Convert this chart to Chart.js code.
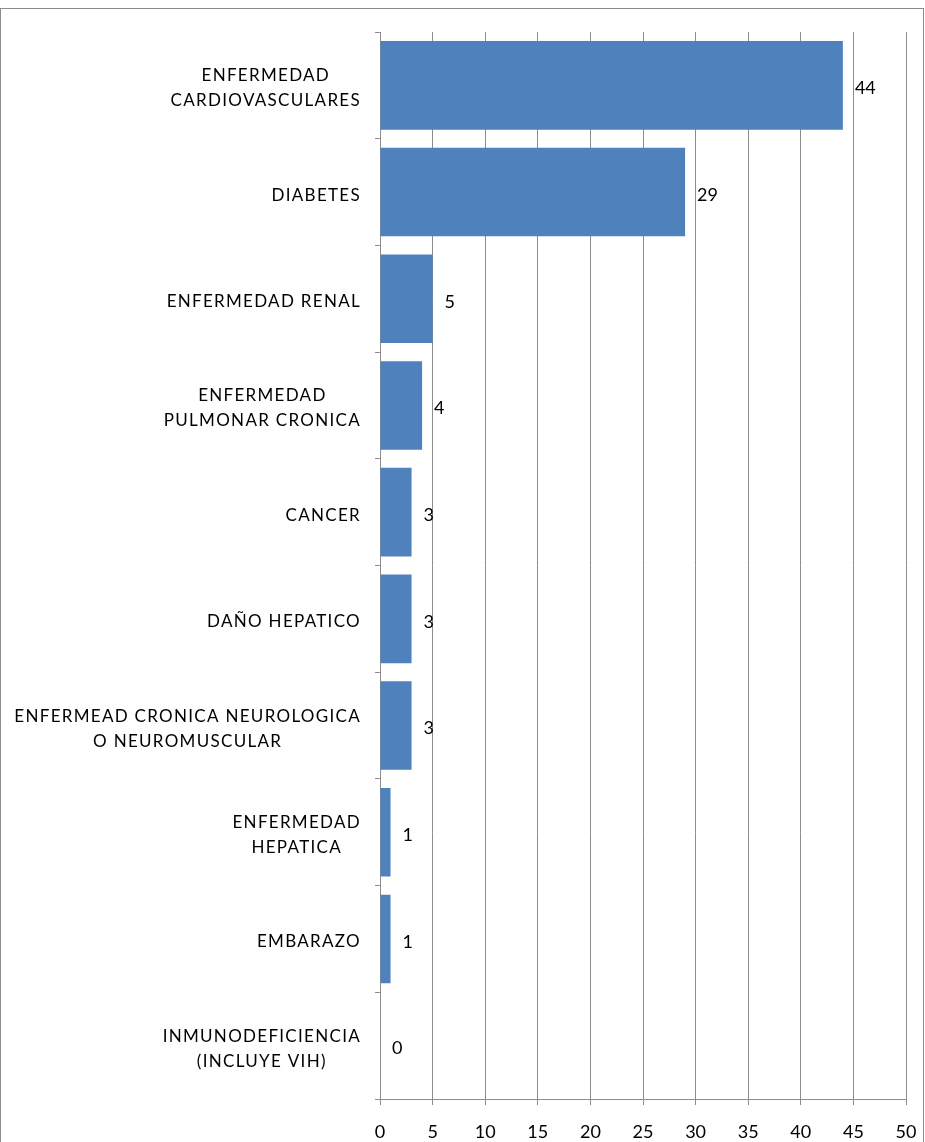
<!DOCTYPE html>
<html>
<head>
<meta charset="utf-8">
<script src="https://cdn.jsdelivr.net/npm/chart.js@4.4.1/dist/chart.umd.min.js"></script>
<style>
  html, body { margin: 0; padding: 0; background: #fff; }
  #wrap { position: relative; width: 925px; height: 1142px; }
</style>
</head>
<body>
<div id="wrap"><canvas id="chart" width="925" height="1142"></canvas></div>
<script>
// categories (multi-line labels) and values
const categories = [
  ["ENFERMEDAD", "CARDIOVASCULARES"],
  ["DIABETES"],
  ["ENFERMEDAD RENAL"],
  ["ENFERMEDAD", "PULMONAR CRONICA"],
  ["CANCER"],
  ["DAÑO HEPATICO"],
  ["ENFERMEAD CRONICA NEUROLOGICA", "O NEUROMUSCULAR"],
  ["ENFERMEDAD", "HEPATICA"],
  ["EMBARAZO"],
  ["INMUNODEFICIENCIA", "(INCLUYE VIH)"]
];
const values = [44, 29, 5, 4, 3, 3, 3, 1, 1, 0];
const xTicks = [0, 5, 10, 15, 20, 25, 30, 35, 40, 45, 50];

const FONT = "17px Lato";
const GRAY = "#8c8c8c";

// frame around the whole picture
const framePlugin = {
  id: "frame",
  beforeDraw(chart) {
    const ctx = chart.ctx;
    ctx.save();
    ctx.strokeStyle = GRAY;
    ctx.lineWidth = 1;
    ctx.strokeRect(0.5, 8.5, 923, 1140);
    ctx.restore();
  }
};

// category labels: block right-aligned, lines centred on each other
const catLabels = {
  id: "catLabels",
  afterDraw(chart) {
    const ctx = chart.ctx;
    const y = chart.scales.y;
    ctx.save();
    ctx.font = FONT;
    ctx.letterSpacing = "1.3px";
    ctx.fillStyle = "#000";
    ctx.textAlign = "center";
    ctx.textBaseline = "middle";
    const right = 361;
    const lh = 25;
    categories.forEach((lines, i) => {
      const cy = y.getPixelForValue(i) + 3;
      const w = Math.max(...lines.map(l => ctx.measureText(l).width));
      const cx = right - w / 2;
      lines.forEach((l, j) => {
        ctx.fillText(l, cx, cy + (j - (lines.length - 1) / 2) * lh);
      });
    });
    ctx.restore();
  }
};

// value labels at end of each bar
const valueLabels = {
  id: "valueLabels",
  afterDatasetsDraw(chart) {
    const ctx = chart.ctx;
    const meta = chart.getDatasetMeta(0);
    ctx.save();
    ctx.font = "18px Lato";
    ctx.fillStyle = "#000";
    ctx.textAlign = "left";
    ctx.textBaseline = "middle";
    meta.data.forEach((bar, i) => {
      ctx.fillText(String(values[i]), bar.x + 12, bar.y + 3);
    });
    ctx.restore();
  }
};

new Chart(document.getElementById("chart"), {
  type: "bar",
  data: {
    labels: categories,
    datasets: [{
      data: values,
      backgroundColor: "#4f81bd",
      borderWidth: 0,
      categoryPercentage: 1,
      barPercentage: 0.83
    }]
  },
  options: {
    indexAxis: "y",
    responsive: false,
    animation: false,
    layout: { padding: { top: 32, right: 19, left: 0, bottom: 0 } },
    plugins: { legend: { display: false }, tooltip: { enabled: false } },
    scales: {
      x: {
        position: "bottom",
        min: 0,
        max: 50,
        afterBuildTicks: scale => { scale.ticks = xTicks.map(v => ({ value: v })); },
        afterFit: scale => {
          scale.height = 43;
          scale.paddingLeft = 0;
          scale.paddingRight = 0;
        },
        ticks: { color: "#000", font: { family: "Lato", size: 18 }, padding: 16, maxRotation: 0 },
        grid: { color: GRAY, lineWidth: 1, tickLength: 6, drawTicks: true },
        border: { color: GRAY, width: 1 }
      },
      y: {
        afterFit: scale => {
          scale.width = 380;
          scale.paddingTop = 0;
          scale.paddingBottom = 0;
        },
        ticks: { display: false },
        grid: { offset: true, drawOnChartArea: false, color: GRAY, tickLength: 5 },
        border: { color: GRAY, width: 1 }
      }
    }
  },
  plugins: [framePlugin, catLabels, valueLabels]
});
</script>
</body>
</html>
